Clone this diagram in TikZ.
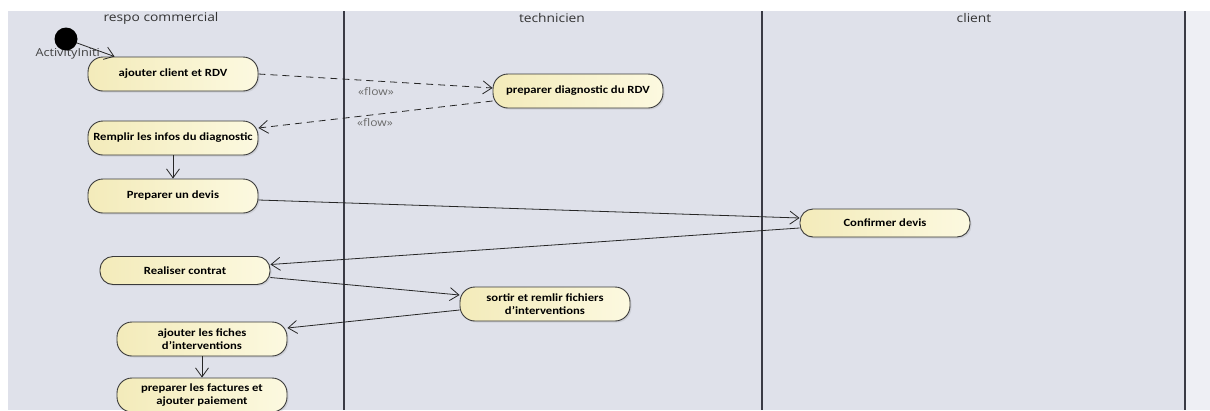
\documentclass[tikz,border=0pt]{standalone}
\usepackage{fontspec}
\setmainfont{Carlito}[FakeStretch=1.15]
\newfontfamily\lanefont{Open Sans}[FakeStretch=1.15]
\usetikzlibrary{arrows.meta,shadows,calc}

\definecolor{lanebg}{HTML}{DFE1EA}
\definecolor{edgebg}{HTML}{EEEFF4}
\definecolor{laneline}{HTML}{3A3B45}
\definecolor{actborder}{HTML}{3A3A3A}
\definecolor{actleft}{HTML}{F3EBBA}
\definecolor{actright}{HTML}{FCF9E0}
\definecolor{flowgray}{HTML}{6A6A6A}

\tikzset{
  action/.style={draw=actborder, line width=0.9pt, rounded corners=15pt,
    left color=actleft, right color=actright,
    minimum width=170pt, minimum height=34pt, inner sep=0pt,
    align=center, font=\bfseries\fontsize{11}{13}\selectfont,
    drop shadow={shadow xshift=1.5pt, shadow yshift=-1.5pt, opacity=0.18}},
  shortaction/.style={action, minimum height=28pt, rounded corners=13pt},
  flowedge/.style={line width=0.8pt, draw=black!85,
    -{Straight Barb[length=9pt,width=13pt,line width=0.8pt]}},
  flowdashed/.style={flowedge, dash pattern=on 7pt off 5pt},
  stereo/.style={font=\lanefont\fontsize{10.5}{12}\selectfont, text=flowgray},
  lanetitle/.style={font=\lanefont\fontsize{12}{14}\selectfont, text=black!80},
  lanesep/.style={draw=laneline, line width=1.2pt}
}

\begin{document}
\begin{tikzpicture}[x=1pt,y=-1pt]
  % page and partition background
  \fill[white] (0,0) rectangle (1210,410);
  \useasboundingbox (0,0) rectangle (1210,410);
  \fill[lanebg] (8,11) rectangle (1185,410);
  \fill[edgebg] (1185,11) rectangle (1210,410);

  % lane separators
  \coordinate (s1t) at (344,11);  \coordinate (s1b) at (344,410);
  \coordinate (s2t) at (762,11);  \coordinate (s2b) at (762,410);
  \coordinate (s3t) at (1185,11); \coordinate (s3b) at (1185,410);
  \draw[lanesep] (s1t) -- (s1b);
  \draw[lanesep] (s2t) -- (s2b);
  \draw[lanesep, line width=2pt] (s3t) -- (s3b);

  % lane titles
  \node[lanetitle] (t1) at (161,18) {respo commercial};
  \node[lanetitle] (t2) at (552,18) {technicien};
  \node[lanetitle] (t3) at (974,18) {client};

  % initial node
  \node[stereo, font=\lanefont\fontsize{11}{12}\selectfont, text=black!75, anchor=west] (initlbl) at (32,54) {ActivityIniti};
  \node[circle, fill=black, minimum size=23pt, inner sep=0pt] (init) at (66,39) {};

  % actions
  \node[action] (n1) at (173,74) {ajouter client et RDV};
  \node[action] (n2) at (578,91) {preparer diagnostic du RDV};
  \node[action] (n3) at (173,138) {Remplir les infos du diagnostic};
  \node[action] (n4) at (173,196) {Preparer un devis};
  \node[shortaction] (c1) at (885,223) {Confirmer devis};
  \node[shortaction] (r1) at (185,270.5) {Realiser contrat};
  \node[action] (s1) at (545,304) {sortir et remlir fichiers\\d'interventions};
  \node[action] (f1) at (202,339) {ajouter les fiches\\d'interventions};
  \node[action] (f2) at (202,395) {preparer les factures et\\ajouter paiement};

  % control and object flows
  \draw[flowedge] (init) -- ([xshift=27pt]n1.north west);
  \draw[flowdashed] (n1.east) -- ([yshift=3pt]n2.west);
  \draw[flowdashed] ([yshift=-10pt]n2.west) -- ([yshift=10pt]n3.east);
  \draw[flowedge] (n3.south) -- (n4.north);
  \draw[flowedge] ([yshift=-4pt]n4.east) -- ([yshift=5pt]c1.west);
  \draw[flowedge] ([yshift=-5pt]c1.west) -- ([yshift=6pt]r1.east);
  \draw[flowedge] ([yshift=-7pt]r1.east) -- ([yshift=9pt]s1.west);
  \draw[flowedge] ([yshift=-6pt]s1.west) -- ([yshift=11pt]f1.east);
  \draw[flowedge] (f1.south) -- (f2.north);

  % stereotype labels
  \node[stereo] (fl1) at (376,92) {«flow»};
  \node[stereo] (fl2) at (375,123) {«flow»};
\end{tikzpicture}
\end{document}
